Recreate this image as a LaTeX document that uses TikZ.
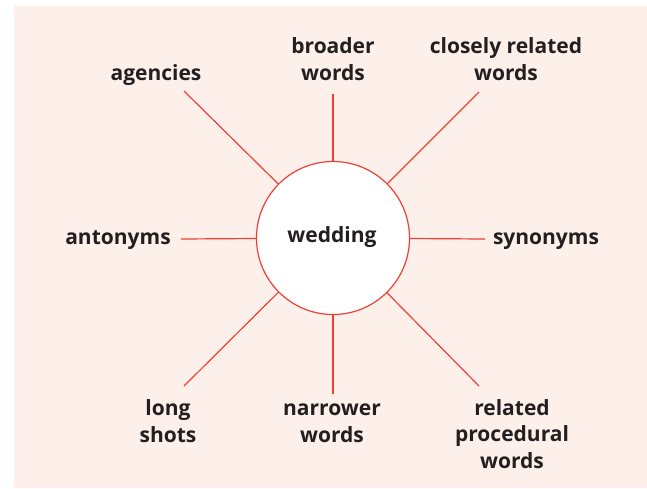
\documentclass[tikz,border=0pt]{standalone}
\usepackage{fontspec}
\setmainfont{Open Sans}
\definecolor{bgpink}{HTML}{FDF0EB}
\definecolor{linered}{HTML}{EE4036}
\definecolor{txt}{HTML}{231F20}
\begin{document}
\begin{tikzpicture}[x=1pt,y=-1pt,
  lbl/.style={inner sep=0pt,anchor=base,align=center,text=txt,
    font=\fontsize{21}{26.5}\selectfont\bfseries},
  spoke/.style={draw=linered,line width=1.2pt}]
\useasboundingbox (0,0) rectangle (647,488);
\fill[bgpink] (14,6) rectangle (647,488);
\node[circle,draw=linered,fill=white,line width=1.2pt,minimum size=153pt,inner sep=0pt] (c) at (333,238) {};
\node[lbl] (w) at (332,242) {wedding};
\coordinate (ul) at (184,91);
\coordinate (ur) at (479,92);
\coordinate (ll) at (184,386);
\coordinate (lr) at (479,386);
\coordinate (tp) at (333,94);
\coordinate (bt) at (333,394);
\coordinate (lf) at (181,239);
\coordinate (rt) at (485,239);
\foreach \p in {ul,ur,ll,lr,tp,bt,lf,rt} \draw[spoke] (c) -- (\p);
\node[lbl] (ag) at (156,80) {agencies};
\node[lbl] (br) at (333,80) {broader\\words};
\node[lbl] (cl) at (506,80) {closely related\\words};
\node[lbl] (an) at (118,244) {antonyms};
\node[lbl] (sy) at (546,244) {synonyms};
\node[lbl] (lo) at (168,442) {long\\shots};
\node[lbl] (na) at (332,442) {narrower\\words};
\node[lbl] (re) at (512,468) {related\\procedural\\words};
\end{tikzpicture}
\end{document}
